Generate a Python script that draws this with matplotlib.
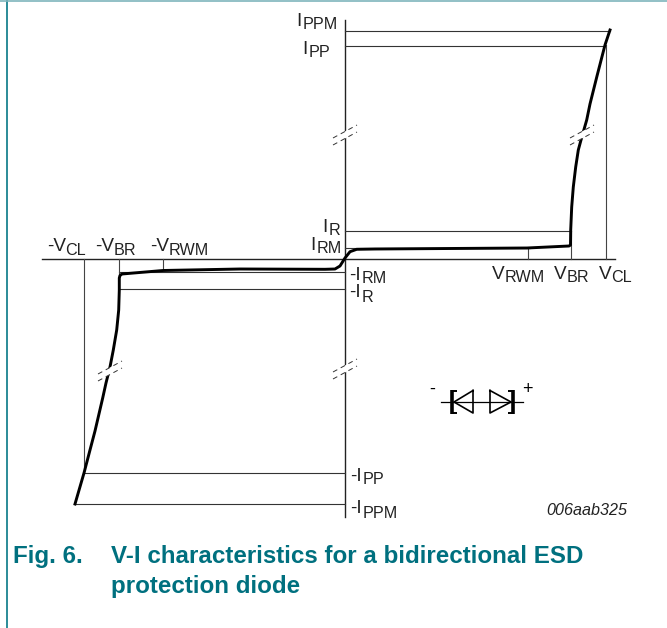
import matplotlib
matplotlib.use("Agg")
import matplotlib.pyplot as plt

plt.rcParams["font.family"] = ["Liberation Sans", "DejaVu Sans"]

TEAL = "#00707f"
BORDER = "#2b8b98"

# curve, in image pixels
curve_x = [75, 84, 90, 95, 102.7, 106, 110, 113.3, 116.7, 118.7, 119.3, 119.3, 120, 122, 163, 240, 325, 335, 340,
           345, 350, 356.7, 375, 450, 527, 569, 570.5, 570.7, 571.7, 573.3, 575.7, 578.3, 581, 586.7, 590, 597,
           605, 610]
curve_y = [504, 473, 450, 431, 398, 383, 367, 350, 330, 310, 290, 278, 275.5, 274, 270.5, 269, 269.3, 269, 266,
           258, 251.7, 249.3, 249, 248.5, 248, 246, 245, 230, 207, 187, 167, 150, 140, 120, 104, 76, 45, 30]

# thin level lines: y, x start, x end
level_y = [30.5, 45.5, 231, 247.5, 271.5, 288.5, 473, 504]
level_x0 = [345, 345, 345, 345, 119, 119, 84, 75]
level_x1 = [610, 605, 571, 530, 345, 345, 345, 345]

# thin voltage lines: x, y start, y end
volt_x = [605.5, 571, 527.5, 84, 119, 162.5]
volt_y0 = [45, 231, 248, 259, 259, 259]
volt_y1 = [259, 259, 259, 473, 276, 270]

# break marks: centre of each pair
break_x = [345, 582, 345, 110]
break_y = [135, 135, 369, 371]

# label text: x, y main, y subscript, main, subscript, gap after main
labels = [
    (296.5, 26, 29, "I", "PPM", 0.5),
    (302.5, 54, 57, "I", "PP", 0.5),
    (322.5, 232, 235, "I", "R", 0.5),
    (310.5, 250, 253, "I", "RM", 0.5),
    (47.5, 251, 255, "-V", "CL", -1.5),
    (95.5, 251, 255, "-V", "BR", -1),
    (150.5, 251, 255, "-V", "RWM", -1),
    (349.5, 280, 283, "-I", "RM", 0.5),
    (349.5, 297, 302, "-I", "R", 0.5),
    (492, 279, 282, "V", "RWM", -0.5),
    (554, 279, 282, "V", "BR", -0.5),
    (599, 279, 282, "V", "CL", -0.5),
    (350.5, 481, 484, "-I", "PP", 0.5),
    (350.5, 513, 518, "-I", "PPM", 0.5),
]

fig = plt.figure(figsize=(6.67, 6.28), dpi=100)
ax = fig.add_axes([0, 0, 1, 1])
ax.set_xlim(0, 667)
ax.set_ylim(628, 0)
ax.axis("off")

# page frame
ax.plot([7, 7], [0, 628], color=BORDER, lw=1.4)
ax.plot([0, 667], [1, 1], color="#7fb5bc", lw=1.2)

# axes
ax.plot([42, 615], [259, 259], color="#222222", lw=1.0)
ax.plot([345, 345], [20, 517], color="#222222", lw=1.0)

for y, x0, x1 in zip(level_y, level_x0, level_x1):
    ax.plot([x0, x1], [y, y], color="#333333", lw=0.8)
for x, y0, y1 in zip(volt_x, volt_y0, volt_y1):
    ax.plot([x, x], [y0, y1], color="#444444", lw=0.8)

ax.plot(curve_x, curve_y, color="black", lw=2.1, solid_joinstyle="round", zorder=3)

# axis breaks: white gap between two dashed strokes
for x, y in zip(break_x, break_y):
    ax.plot([x - 11, x + 11], [y + 6, y - 6], color="white", lw=4.5, zorder=4)
    for off in (-3.5, 3.5):
        ax.plot([x - 12, x + 12], [y + off + 6.5, y + off - 6.5], color="#333333", lw=0.7,
                linestyle=(0, (5, 4)), zorder=5)

# diode symbol
ax.plot([441, 523], [402, 402], color="black", lw=0.9)
ax.plot([473, 454, 473, 473], [390.5, 402, 413, 390.5], color="black", lw=1.2)
ax.plot([490, 511, 490, 490], [390.5, 402, 413, 390.5], color="black", lw=1.2)
ax.plot([452, 452], [390, 414], color="black", lw=2.6, solid_capstyle="butt")
ax.plot([452, 457], [391, 391], color="black", lw=1.4, solid_capstyle="butt")
ax.plot([452, 457], [413, 413], color="black", lw=1.4, solid_capstyle="butt")
ax.plot([513, 513], [390, 414], color="black", lw=2.6, solid_capstyle="butt")
ax.plot([508, 513], [391, 391], color="black", lw=1.4, solid_capstyle="butt")
ax.plot([508, 513], [413, 413], color="black", lw=1.4, solid_capstyle="butt")
ax.text(432, 389, "-", fontsize=13, ha="center", va="center")
ax.text(527, 389, "+", fontsize=13, ha="center", va="center")

# labels with subscripts, second text placed after the first
renderer = fig.canvas.get_renderer()
for x, y, ysub, main, sub, gap in labels:
    t = ax.text(x, y, main, fontsize=13.7, color="#222222", ha="left", va="baseline")
    w = t.get_window_extent(renderer).x1
    ax.text(w + gap, ysub, sub, fontsize=11.6, color="#222222", ha="left", va="baseline")

ax.text(546.5, 515, "006aab325", fontsize=11.6, style="italic", color="#222222", ha="left", va="baseline")

# caption
ax.text(13, 563, "Fig. 6.", fontsize=17.35, weight="bold", color=TEAL, ha="left", va="baseline")
ax.text(111, 563, "V-I characteristics for a bidirectional ESD", fontsize=17.35, weight="bold", color=TEAL,
        ha="left", va="baseline")
ax.text(111, 593, "protection diode", fontsize=17.35, weight="bold", color=TEAL, ha="left", va="baseline")

fig.savefig("out.png", dpi=100)
